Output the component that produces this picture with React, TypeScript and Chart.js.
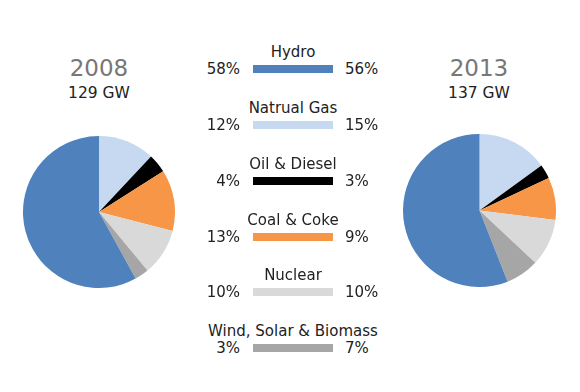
import React, { useEffect, useRef } from "react";
import { Chart, registerables } from "chart.js";

Chart.register(...registerables);

const categories = ["Natrual Gas", "Oil & Diesel", "Coal & Coke", "Nuclear", "Wind, Solar & Biomass", "Hydro"];
const values2008 = [12, 4, 13, 10, 3, 58];
const values2013 = [15, 3, 9, 10, 7, 56];
const colors = ["#C6D9F1", "#000000", "#F79646", "#D9D9D9", "#A6A6A6", "#4F81BD"];
const legendOrder = [5, 0, 1, 2, 3, 4];
const years = ["2008", "2013"];
const capacities = ["129 GW", "137 GW"];

const FONT = "'DejaVu Sans', sans-serif";

function Pie({ values, left, top, size }: { values: number[]; left: number; top: number; size: number }) {
  const ref = useRef<HTMLCanvasElement>(null);
  useEffect(() => {
    if (!ref.current) return;
    const chart = new Chart(ref.current, {
      type: "pie",
      data: {
        labels: categories,
        datasets: [{ data: values, backgroundColor: colors, borderWidth: 0 }],
      },
      options: {
        animation: false,
        responsive: false,
        maintainAspectRatio: false,
        layout: { padding: 0 },
        plugins: { legend: { display: false }, tooltip: { enabled: false }, title: { display: false } },
      },
    });
    return () => chart.destroy();
  }, []);
  return (
    <canvas ref={ref} width={size} height={size} style={{ position: "absolute", left, top, width: size, height: size }} />
  );
}

function Text({ x, y, text, size, color, align }: { x: number; y: number; text: string; size: number; color: string; align: "center" | "left" | "right" }) {
  const w = 240;
  let left = x - w / 2;
  if (align === "left") left = x;
  if (align === "right") left = x - w;
  return (
    <div
      style={{
        position: "absolute",
        left,
        top: y - 15,
        width: w,
        height: 30,
        lineHeight: "30px",
        textAlign: align,
        fontFamily: FONT,
        fontSize: size,
        color,
        whiteSpace: "nowrap",
      }}
    >
      {text}
    </div>
  );
}

export default function App() {
  const barY = [69, 125, 181, 237, 292, 348];
  return (
    <div style={{ position: "fixed", left: 0, top: 0, width: 580, height: 392, background: "#fff", overflow: "hidden" }}>
      <Text x={99} y={68} text={years[0]} size={23} color="#777777" align="center" />
      <Text x={99} y={93} text={capacities[0]} size={15.5} color="#222222" align="center" />
      <Text x={479} y={68} text={years[1]} size={23} color="#777777" align="center" />
      <Text x={479} y={93} text={capacities[1]} size={15.5} color="#222222" align="center" />
      <Pie values={values2008} left={23} top={136} size={152} />
      <Pie values={values2013} left={403} top={134} size={153} />
      {legendOrder.map((idx, i) => (
        <React.Fragment key={idx}>
          <Text x={293} y={barY[i] - 17} text={categories[idx]} size={15} color="#222222" align="center" />
          <Text x={240} y={barY[i]} text={values2008[idx] + "%"} size={15} color="#222222" align="right" />
          <Text x={345} y={barY[i]} text={values2013[idx] + "%"} size={15} color="#222222" align="left" />
          <div style={{ position: "absolute", left: 253, top: barY[i] - 4, width: 80, height: 8, background: colors[idx] }} />
        </React.Fragment>
      ))}
    </div>
  );
}
